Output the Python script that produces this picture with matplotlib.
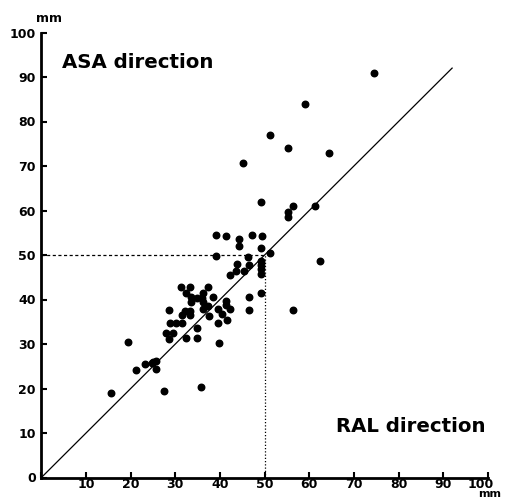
import numpy as np
import matplotlib
matplotlib.use("Agg")
import matplotlib.pyplot as plt
from matplotlib.transforms import ScaledTranslation

# RAL direction (x) and ASA direction (y), in mm
ral = np.array([15.5, 19.4, 21.3, 23.2, 24.7, 25.0, 25.6, 25.6, 27.5, 28.0,
                29.5, 28.6, 28.9, 30.1, 31.4, 28.6, 31.4, 32.1, 33.3, 33.3,
                32.5, 34.8, 34.8, 31.2, 33.3, 32.4, 37.4, 36.2, 33.6, 33.6,
                34.8, 35.9, 36.2, 38.5, 36.2, 37.4, 41.3, 41.3, 39.5, 40.4,
                42.2, 41.6, 37.6, 39.6, 39.7, 35.7, 46.4, 46.4, 49.1, 56.4,
                42.3, 43.7, 43.8, 45.4, 46.5, 46.2, 39.0, 49.3, 49.3, 49.3,
                49.3, 51.3, 62.4, 39.2, 41.3, 44.2, 44.2, 47.1, 49.5, 49.3,
                49.3, 56.3, 55.3, 55.3, 61.3, 45.2, 51.2, 55.3, 64.5, 59.0,
                74.5])
asa = np.array([19.1, 30.4, 24.2, 25.5, 25.7, 26.0, 26.2, 24.4, 19.5, 32.5,
                32.5, 31.2, 34.8, 34.8, 34.8, 37.6, 36.5, 37.5, 37.5, 36.5,
                31.4, 31.4, 33.5, 42.7, 42.7, 41.4, 42.7, 41.5, 40.5, 39.4,
                40.3, 40.3, 39.4, 40.5, 37.8, 38.5, 39.7, 38.8, 37.8, 36.7,
                37.8, 35.5, 36.4, 34.7, 30.3, 20.4, 40.6, 37.6, 41.5, 37.6,
                45.6, 46.4, 48.0, 46.4, 47.8, 49.6, 49.8, 48.7, 47.8, 46.8,
                45.7, 50.5, 48.6, 54.6, 54.3, 53.6, 52.1, 54.6, 54.3, 51.5,
                61.9, 61.0, 59.6, 58.6, 61.0, 70.7, 76.9, 74.0, 72.9, 83.9,
                91.0])

ticks = [0, 10, 20, 30, 40, 50, 60, 70, 80, 90, 100]
xticklabels = ["", "10", "20", "30", "40", "50", "60", "70", "80", "90", "100"]
yticklabels = ["0", "10", "20", "30", "40", "50", "60", "70", "80", "90", "100"]

fig = plt.figure(figsize=(5.05, 5.0), dpi=100)
ax = fig.add_axes([0.082, 0.045, 0.884, 0.89])

# identity line and the 50 mm guides
ax.plot([0, 92], [0, 92], color="black", lw=0.9)
ax.plot([0, 50], [50, 50], color="black", lw=0.9, ls=(0, (2.5, 2)))
ax.plot([50, 50], [0, 50], color="black", lw=0.9, ls=(0, (1, 1.6)))

ax.scatter(ral, asa, s=22, color="black", zorder=3)

ax.set_xlim(0, 100)
ax.set_ylim(0, 100)
ax.set_xticks(ticks)
ax.set_xticklabels(xticklabels, fontweight="bold")
ax.set_yticks(ticks)
ax.set_yticklabels(yticklabels, fontweight="bold")
ax.tick_params(direction="in", length=4, width=1.5, labelsize=9)
ax.tick_params(axis="x", pad=0)
ax.tick_params(axis="y", pad=4)

# last x label sits a bit left of its tick, "mm" goes under it
last = ax.get_xticklabels()[-1]
last.set_transform(last.get_transform() + ScaledTranslation(-5 / 72, 0, fig.dpi_scale_trans))

for side in ["top", "right"]:
    ax.spines[side].set_visible(False)
for side in ["left", "bottom"]:
    ax.spines[side].set_linewidth(2)

ax.text(4.6, 92, "ASA direction", fontsize=14.2, fontweight="bold")
ax.text(66, 10.2, "RAL direction", fontsize=14.2, fontweight="bold")
ax.text(1.8, 103.1, "mm", fontsize=9, fontweight="bold",
        ha="center", va="center", clip_on=False)
ax.text(100.5, -3.6, "mm", fontsize=8, fontweight="bold",
        ha="center", va="center", clip_on=False)

fig.savefig("out.png", dpi=100)
